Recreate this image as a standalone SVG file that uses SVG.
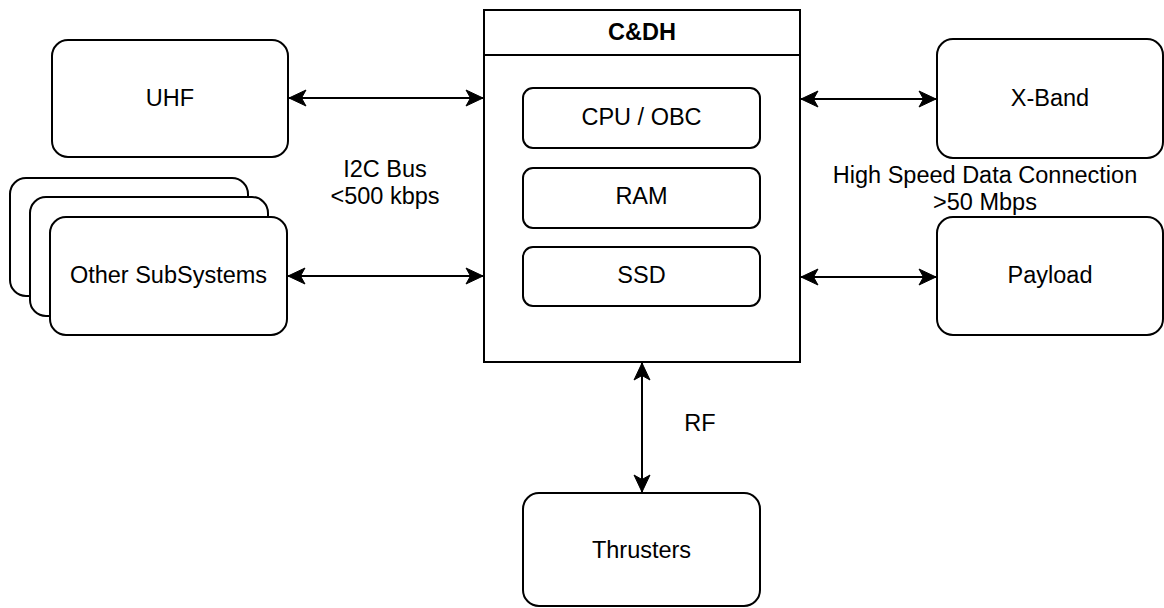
<svg xmlns="http://www.w3.org/2000/svg" width="1164" height="608" viewBox="0 0 1164 608">
<style>
.box{fill:#fff;stroke:#000;stroke-width:2}
.t{font-family:"Liberation Sans",Arial,Helvetica,sans-serif;font-size:23.5px;fill:#000;text-anchor:middle}
.b{font-weight:bold}
.c{fill:none;stroke:#000;stroke-width:2}
</style>
<defs>
<marker id="arr" markerUnits="userSpaceOnUse" markerWidth="20" markerHeight="20" viewBox="-18 -10 20 20" refX="0" refY="0" orient="auto-start-reverse">
<path d="M0,0 L-17,-8 L-12.5,0 L-17,8 Z" fill="#000" stroke="#000" stroke-width="1" stroke-linejoin="miter"/>
</marker>
</defs>
<rect width="1164" height="608" fill="#fff"/>
<g id="cdh">
<rect class="box" x="484" y="10" width="316" height="352"/>
<line class="c" x1="484" y1="55" x2="800" y2="55"/>
<text class="t b" x="642" y="40">C&amp;DH</text>
</g>
<g id="cpu">
<rect class="box" x="523" y="88" width="237" height="60" rx="10"/>
<text class="t" x="641.5" y="125">CPU / OBC</text>
</g>
<g id="ram">
<rect class="box" x="523" y="168" width="237" height="60" rx="10"/>
<text class="t" x="641.5" y="204">RAM</text>
</g>
<g id="ssd">
<rect class="box" x="523" y="247" width="237" height="59" rx="10"/>
<text class="t" x="641.5" y="283">SSD</text>
</g>
<g id="uhf">
<rect class="box" x="52" y="40" width="236" height="117" rx="16"/>
<text class="t" x="170" y="106">UHF</text>
</g>
<g id="other">
<rect class="box" x="10" y="178" width="238" height="118" rx="16"/>
<rect class="box" x="30" y="197" width="238" height="119" rx="16"/>
<rect class="box" x="50" y="217" width="237" height="118" rx="16"/>
<text class="t" x="168.5" y="283">Other SubSystems</text>
</g>
<g id="xband">
<rect class="box" x="937" y="39" width="226" height="119" rx="16"/>
<text class="t" x="1050" y="106">X-Band</text>
</g>
<g id="payload">
<rect class="box" x="937" y="217" width="226" height="118" rx="16"/>
<text class="t" x="1050" y="283">Payload</text>
</g>
<g id="thrusters">
<rect class="box" x="523" y="493" width="237" height="113" rx="16"/>
<text class="t" x="641.5" y="558">Thrusters</text>
</g>
<g id="connectors">
<path class="c" d="M289,98 L483,98" marker-start="url(#arr)" marker-end="url(#arr)"/>
<path class="c" d="M288,276 L483,276" marker-start="url(#arr)" marker-end="url(#arr)"/>
<path class="c" d="M801,99 L936,99" marker-start="url(#arr)" marker-end="url(#arr)"/>
<path class="c" d="M801,277 L936,277" marker-start="url(#arr)" marker-end="url(#arr)"/>
<path class="c" d="M642,363 L642,492" marker-start="url(#arr)" marker-end="url(#arr)"/>
<text class="t" x="385" y="177">I2C Bus</text>
<text class="t" x="385" y="204">&lt;500 kbps</text>
<text class="t" x="985" y="183">High Speed Data Connection</text>
<text class="t" x="985" y="210">&gt;50 Mbps</text>
<text class="t" x="700" y="431">RF</text>
</g>
</svg>
